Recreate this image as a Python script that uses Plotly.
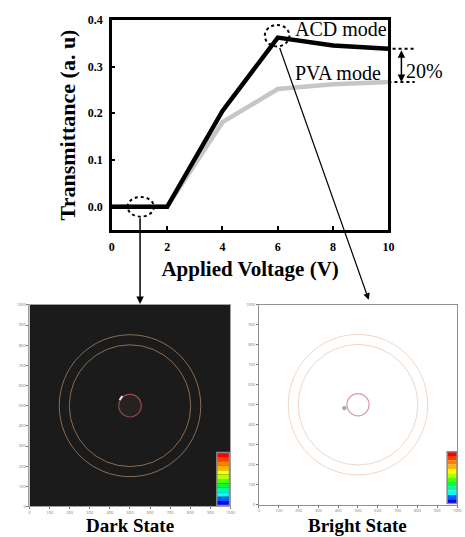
import plotly.graph_objects as go

# ---------------- data ----------------
voltage = [0, 2, 4, 6, 8, 10]
acd_mode = [0.0, 0.0, 0.205, 0.362, 0.345, 0.338]
pva_mode = [0.0, 0.0, 0.181, 0.252, 0.262, 0.267]
x_ticks = [0, 2, 4, 6, 8, 10]
y_ticks = [0.0, 0.1, 0.2, 0.3, 0.4]
y_tick_labels = ["0.0", "0.1", "0.2", "0.3", "0.4"]
image_ticks = list(range(0, 1001, 100))
ring_radii = [352, 302]
center_radius = 56
colorbar_colors = ["#ff0000", "#ff3c00", "#ff8000", "#ffb400", "#ffff00", "#b4ff00",
                   "#50ff00", "#00ff40", "#00ff90", "#00ffff", "#0060ff", "#0000ff"]
panel_labels = ["Dark State", "Bright State"]
mode_labels = ["ACD mode", "PVA mode"]
gap_label = "20%"

SERIF = "Liberation Serif"
X_DOMAIN = [0.2387, 0.8452]
X_RANGE = [0, 10]


def x_to_paper(v):
    return X_DOMAIN[0] + (v - X_RANGE[0]) / (X_RANGE[1] - X_RANGE[0]) * (X_DOMAIN[1] - X_DOMAIN[0])


fig = go.Figure()
fig.add_trace(go.Scatter(x=voltage, y=pva_mode, mode="lines", name="PVA mode",
                         line=dict(color="#c6c6c6", width=4.5), showlegend=False))
fig.add_trace(go.Scatter(x=voltage, y=acd_mode, mode="lines", name="ACD mode",
                         line=dict(color="black", width=4.5), showlegend=False))

shapes = []
annotations = []

# dotted ellipses on the main chart
shapes.append(dict(type="circle", xref="x", yref="y", x0=0.57, x1=1.52, y0=-0.021, y1=0.021,
                   line=dict(color="black", width=2, dash="dot")))
shapes.append(dict(type="circle", xref="x", yref="y", x0=5.53, x1=6.42, y0=0.343, y1=0.389,
                   line=dict(color="black", width=2, dash="dot")))
# dotted guide lines at right for 20 %
for yv, xs in [(acd_mode[-1], 9.5), (pva_mode[-1], 10)]:
    shapes.append(dict(type="line", xref="paper", yref="y", x0=x_to_paper(xs), x1=x_to_paper(10.95),
                       y0=yv, y1=yv, line=dict(color="black", width=2, dash="dot")))

# double-headed arrow
annotations.append(dict(xref="paper", yref="y", axref="pixel", ayref="y", x=x_to_paper(10.47),
                        y=pva_mode[-1], ax=0, ay=acd_mode[-1], text="", showarrow=True,
                        arrowhead=2, startarrowhead=2, arrowside="end+start", arrowwidth=1.5,
                        arrowsize=1, startarrowsize=1, arrowcolor="black"))
label_font = dict(family=SERIF, size=20, color="black")
annotations.append(dict(xref="paper", yref="y", x=x_to_paper(10.55), y=0.29, text=gap_label,
                        showarrow=False, xanchor="left", font=label_font))
annotations.append(dict(xref="x", yref="y", x=6.55, y=0.381, text=mode_labels[0], showarrow=False,
                        xanchor="left", font=label_font))
annotations.append(dict(xref="x", yref="y", x=6.55, y=0.286, text=mode_labels[1], showarrow=False,
                        xanchor="left", font=label_font))

# arrows pointing to images
annotations.append(dict(xref="x", yref="y", axref="x", ayref="y", x=1.02, y=-0.208,
                        ax=1.02, ay=-0.021, text="", showarrow=True, arrowhead=2,
                        arrowwidth=1.5, arrowsize=1, arrowcolor="black"))
annotations.append(dict(xref="x", yref="y", axref="x", ayref="y", x=9.29, y=-0.199,
                        ax=6.05, ay=0.343, text="", showarrow=True, arrowhead=2,
                        arrowwidth=1.2, arrowsize=1.1, arrowcolor="black"))

# ---------------- images ----------------
panels = [
    dict(x="x2", y="y2", bg="#1b1b1b", ring="#8a6d52", center="#9a4a4a", cfill="#262222",
         cb=(932, 995, 5, 268)),
    dict(x="x3", y="y3", bg="#ffffff", ring="#efd8c6", center="#d99aa0", cfill="rgba(0,0,0,0)",
         cb=(950, 1000, 5, 265)),
]
for i, p in enumerate(panels):
    shapes.append(dict(type="rect", xref=p["x"], yref=p["y"], x0=0, x1=1000, y0=0, y1=1000,
                       fillcolor=p["bg"], line=dict(width=0), layer="below"))
    for r in ring_radii:
        shapes.append(dict(type="circle", xref=p["x"], yref=p["y"], x0=500 - r, x1=500 + r,
                           y0=500 - r, y1=500 + r, line=dict(color=p["ring"], width=1)))
    shapes.append(dict(type="circle", xref=p["x"], yref=p["y"], x0=500 - center_radius,
                       x1=500 + center_radius, y0=500 - center_radius, y1=500 + center_radius,
                       fillcolor=p["cfill"], line=dict(color=p["center"], width=1.2)))
    cx0, cx1, cy0, cy1 = p["cb"]
    n = len(colorbar_colors)
    h = (cy1 - cy0) / n
    for k, c in enumerate(colorbar_colors):
        shapes.append(dict(type="rect", xref=p["x"], yref=p["y"], x0=cx0, x1=cx1,
                           y0=cy1 - (k + 1) * h, y1=cy1 - k * h, fillcolor=c, line=dict(width=0)))
    shapes.append(dict(type="rect", xref=p["x"], yref=p["y"], x0=cx0, x1=cx1, y0=cy0, y1=cy1,
                       line=dict(color="#8a8a8a", width=1.5)))
    annotations.append(dict(xref=p["x"] + " domain", yref="paper", x=0.5, y=0.018,
                            text=panel_labels[i], showarrow=False, yanchor="middle",
                            font=dict(family=SERIF, size=19, color="black", weight="bold")))

# small highlights near centres
shapes.append(dict(type="line", xref="x2", yref="y2", x0=448, x1=462, y0=528, y1=548,
                   line=dict(color="#e8e8e8", width=2)))
shapes.append(dict(type="circle", xref="x3", yref="y3", x0=420, x1=442, y0=472, y1=494,
                   fillcolor="#a8a8a8", line=dict(width=0)))

img_axis = dict(range=[0, 1000], showgrid=False, zeroline=False, showline=True, mirror=True,
                linewidth=1, ticks="outside", ticklen=2, tickwidth=1, tickcolor="#777",
                tickvals=image_ticks, tickfont=dict(size=4, color="#777"), fixedrange=True)

fig.update_layout(
    width=465, height=537, margin=dict(l=0, r=0, t=0, b=0),
    paper_bgcolor="white", plot_bgcolor="white",
    xaxis=dict(domain=X_DOMAIN, range=X_RANGE, showgrid=False, zeroline=False,
               showline=True, mirror=True, linecolor="black", linewidth=2.5,
               ticks="inside", ticklen=4, tickwidth=1.5, tickcolor="black",
               tickvals=x_ticks, ticklabelstandoff=4,
               tickfont=dict(family=SERIF, size=12, color="black", weight="bold"),
               title=dict(text="Applied Voltage (V)", standoff=8,
                          font=dict(family=SERIF, size=21, color="black", weight="bold"))),
    yaxis=dict(domain=[0.5773, 0.9758], range=[-0.05, 0.4], showgrid=False, zeroline=False,
               showline=True, mirror=True, linecolor="black", linewidth=2.5,
               ticks="inside", ticklen=3, tickwidth=1.5, tickcolor="black",
               tickvals=y_ticks, ticktext=y_tick_labels, ticklabelstandoff=4,
               tickfont=dict(family=SERIF, size=12, color="black", weight="bold"),
               title=dict(text="Transmittance (a. u)", standoff=6,
                          font=dict(family=SERIF, size=22, color="black", weight="bold"))),
    xaxis2=dict(domain=[0.0581, 0.4989], anchor="y2", linecolor="#a0a0a0", **img_axis),
    yaxis2=dict(domain=[0.0540, 0.4358], anchor="x2", linecolor="#a0a0a0", **img_axis),
    xaxis3=dict(domain=[0.5613, 0.9957], anchor="y3", linecolor="#909090", **img_axis),
    yaxis3=dict(domain=[0.0577, 0.4358], anchor="x3", linecolor="#909090", **img_axis),
    shapes=shapes, annotations=annotations, showlegend=False,
)

fig.write_html("out.html")
